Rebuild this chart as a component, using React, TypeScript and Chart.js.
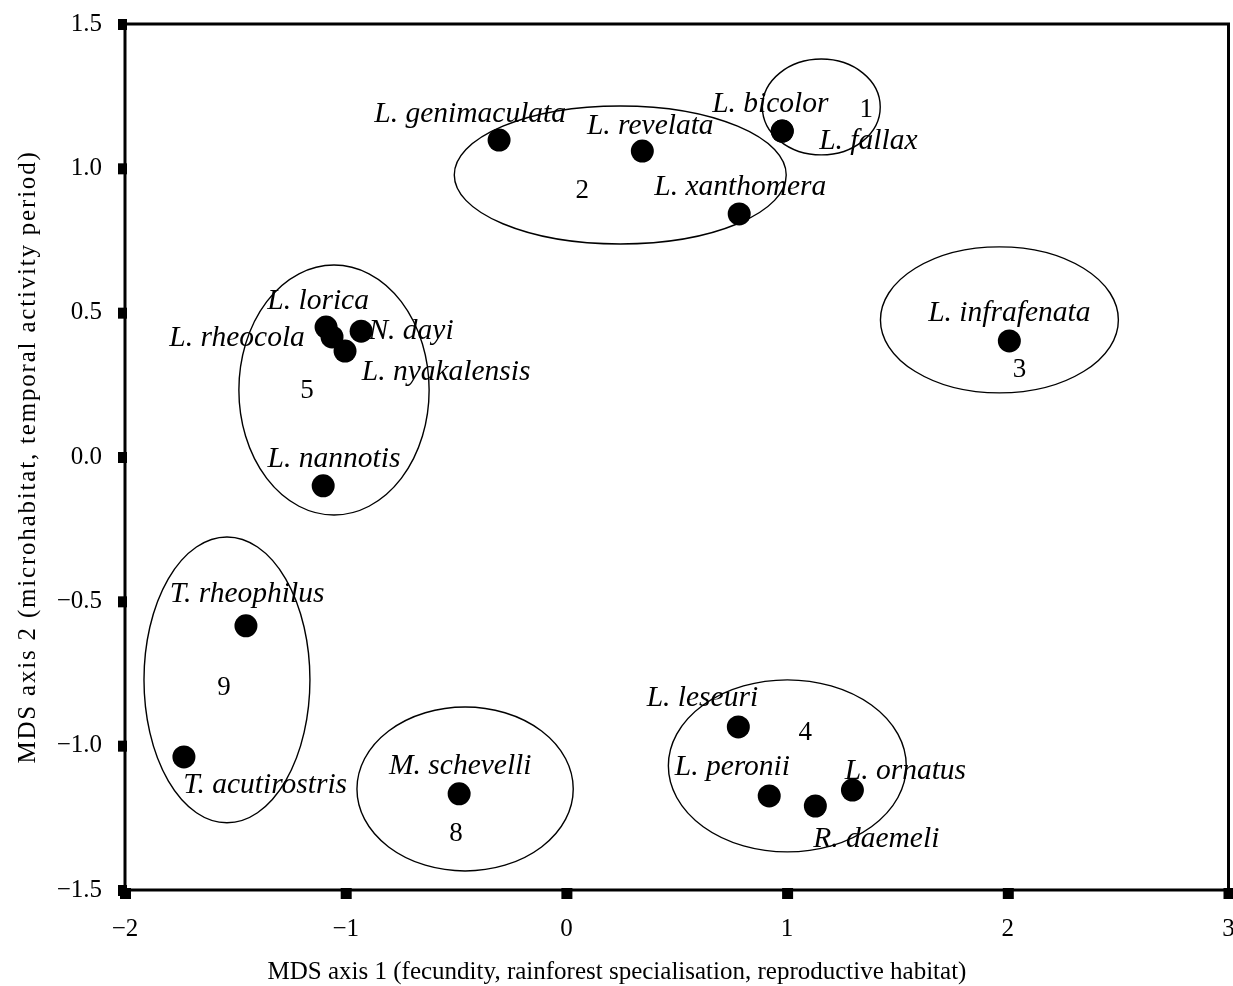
import React, { useEffect, useRef } from "react";
import { Chart, registerables } from "chart.js";

Chart.register(...registerables);

// Species (points)
const species = [
  "L. genimaculata", "L. revelata", "L. bicolor", "L. fallax", "L. xanthomera",
  "L. infrafenata", "L. lorica", "L. rheocola", "N. dayi", "L. nyakalensis",
  "L. nannotis", "T. rheophilus", "T. acutirostris", "M. schevelli",
  "L. leseuri", "L. peronii", "R. daemeli", "L. ornatus",
];
const axis1 = [-0.305, 0.344, 0.978, 0.978, 0.783, 2.007, -1.089, -1.062, -0.93, -1.003, -1.102, -1.452, -1.733, -0.486, 0.779, 0.919, 1.128, 1.296];
const axis2 = [1.098, 1.06, 1.129, 1.129, 0.842, 0.402, 0.45, 0.416, 0.436, 0.367, -0.1, -0.585, -1.039, -1.167, -0.935, -1.174, -1.209, -1.154];
// Label anchors (data units)
const labelX = [-0.436, 0.38, 0.924, 1.368, 0.788, 2.007, -1.125, -1.492, -0.704, -0.545, -1.053, -1.447, -1.365, -0.481, 0.616, 0.752, 1.404, 1.536];
const labelY = [1.188, 1.147, 1.223, 1.095, 0.935, 0.499, 0.54, 0.412, 0.437, 0.294, -0.007, -0.475, -1.136, -1.07, -0.835, -1.074, -1.323, -1.088];

// Groups (ellipses)
const groups = ["1", "2", "3", "5", "9", "8", "4"];
const groupCx = [1.155, 0.244, 1.962, -1.053, -1.538, -0.459, 1.001];
const groupCy = [1.2125, 0.977, 0.475, 0.232, -0.772, -1.15, -1.07];
const groupRx = [0.267, 0.752, 0.539, 0.431, 0.376, 0.49, 0.539];
const groupRy = [0.166, 0.239, 0.253, 0.433, 0.495, 0.284, 0.298];
const groupLabelX = [1.359, 0.072, 2.053, -1.175, -1.551, -0.5, 1.082];
const groupLabelY = [1.202, 0.921, 0.301, 0.229, -0.8, -1.306, -0.956];

const xTicks = [-2, -1, 0, 1, 2, 3];
const yTicks = [-1.5, -1.0, -0.5, 0.0, 0.5, 1.0, 1.5];
const xTitle = "MDS axis 1 (fecundity, rainforest specialisation, reproductive habitat)";
const yTitle = "MDS axis 2 (microhabitat, temporal activity period)";

const FONT = "'Liberation Serif', 'Times New Roman', serif";
const fmtX = (v: number) => (v < 0 ? "\u2212" + Math.abs(v) : String(v));
const fmtY = (v: number) => (v < 0 ? "\u2212" + Math.abs(v).toFixed(1) : v.toFixed(1));

const zeroPad = (s: any) => {
  s.paddingLeft = 0;
  s.paddingRight = 0;
  s.paddingTop = 0;
  s.paddingBottom = 0;
};

const overlay = {
  id: "overlay",
  beforeDatasetsDraw(chart: any) {
    const { ctx, chartArea, scales } = chart;
    const xs = scales.x, ys = scales.y;
    ctx.save();
    // ellipses
    ctx.strokeStyle = "#000";
    ctx.lineWidth = 1.4;
    for (let i = 0; i < groups.length; i++) {
      const cx = xs.getPixelForValue(groupCx[i]);
      const cy = ys.getPixelForValue(groupCy[i]);
      const rx = Math.abs(xs.getPixelForValue(groupCx[i] + groupRx[i]) - cx);
      const ry = Math.abs(ys.getPixelForValue(groupCy[i] + groupRy[i]) - cy);
      ctx.beginPath();
      ctx.ellipse(cx, cy, rx, ry, 0, 0, Math.PI * 2);
      ctx.stroke();
    }
    // frame
    ctx.lineWidth = 3;
    ctx.strokeRect(chartArea.left, chartArea.top, chartArea.right - chartArea.left, chartArea.bottom - chartArea.top);
    // tick squares
    ctx.fillStyle = "#000";
    for (const t of xTicks) {
      const px = xs.getPixelForValue(t);
      ctx.fillRect(px - 5, chartArea.bottom - 2, 11, 11);
    }
    for (const t of yTicks) {
      const py = ys.getPixelForValue(t);
      ctx.fillRect(chartArea.left - 7, py - 5, 9, 11);
    }
    // axis titles
    ctx.font = `25px ${FONT}`;
    ctx.textAlign = "center";
    ctx.textBaseline = "alphabetic";
    ctx.fillText(xTitle, 617, 979);
    ctx.save();
    ctx.translate(35, (chartArea.top + chartArea.bottom) / 2);
    ctx.rotate(-Math.PI / 2);
    (ctx as any).letterSpacing = "1.8px";
    ctx.fillText(yTitle, 0, 0);
    ctx.restore();
    ctx.restore();
  },
  afterDatasetsDraw(chart: any) {
    const { ctx, scales } = chart;
    const xs = scales.x, ys = scales.y;
    ctx.save();
    ctx.fillStyle = "#000";
    ctx.textAlign = "center";
    ctx.textBaseline = "middle";
    ctx.font = `italic 29.5px ${FONT}`;
    for (let i = 0; i < species.length; i++) {
      ctx.fillText(species[i], xs.getPixelForValue(labelX[i]), ys.getPixelForValue(labelY[i]));
    }
    ctx.font = `27px ${FONT}`;
    for (let i = 0; i < groups.length; i++) {
      ctx.fillText(groups[i], xs.getPixelForValue(groupLabelX[i]), ys.getPixelForValue(groupLabelY[i]));
    }
    ctx.restore();
  },
};

export default function App() {
  const ref = useRef<HTMLCanvasElement | null>(null);
  useEffect(() => {
    if (!ref.current) return;
    const chart = new Chart(ref.current, {
      type: "scatter",
      data: {
        datasets: [
          {
            data: axis1.map((x, i) => ({ x, y: axis2[i] })),
            backgroundColor: "#000",
            borderColor: "#000",
            pointRadius: 11.5,
            pointHoverRadius: 11.5,
            borderWidth: 0,
          },
        ],
      },
      options: {
        animation: false,
        responsive: false,
        events: [],
        layout: { padding: { left: 0, top: 24, right: 0, bottom: 0 } },
        plugins: { legend: { display: false }, tooltip: { enabled: false } },
        scales: {
          x: {
            type: "linear",
            min: -2,
            max: 3,
            afterFit: (s: any) => { s.height = 96; zeroPad(s); },
            afterBuildTicks: (s: any) => { s.ticks = xTicks.map((v) => ({ value: v })); },
            grid: { display: false, drawTicks: false },
            border: { display: false },
            ticks: {
              padding: 24,
              color: "#000",
              font: { family: FONT, size: 25 },
              maxRotation: 0,
              callback: (v: any) => fmtX(Number(v)),
            },
            title: { display: false },
          },
          y: {
            type: "linear",
            min: -1.5,
            max: 1.5,
            afterFit: (s: any) => { s.width = 125; zeroPad(s); },
            afterBuildTicks: (s: any) => { s.ticks = yTicks.map((v) => ({ value: v })); },
            grid: { display: false, drawTicks: false },
            border: { display: false },
            ticks: {
              padding: 23,
              color: "#000",
              font: { family: FONT, size: 25 },
              callback: (v: any) => fmtY(Number(v)),
            },
            title: { display: false },
          },
        },
      },
      plugins: [overlay],
    });
    return () => chart.destroy();
  }, []);
  return (
    <div style={{ position: "absolute", left: 0, top: 0, width: 1233, height: 986, overflow: "hidden", background: "#fff" }}>
      <canvas ref={ref} width={1240} height={986} style={{ display: "block" }} />
    </div>
  );
}
